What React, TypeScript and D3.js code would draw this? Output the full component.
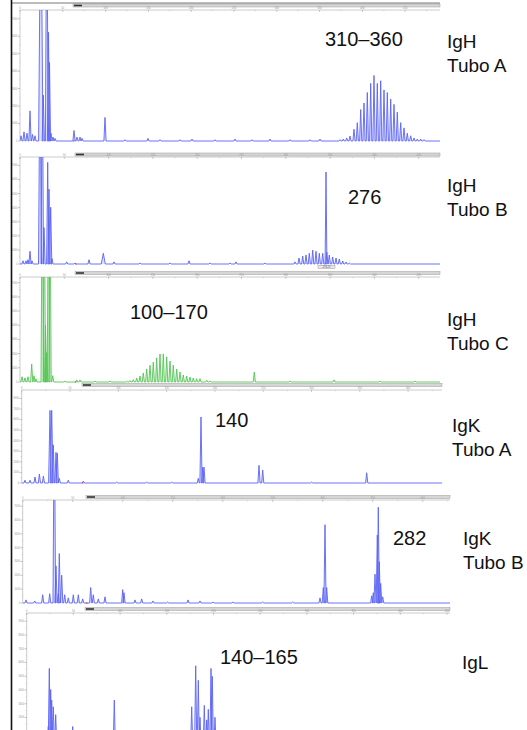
import React from "react";
import * as d3 from "d3";

// ---------- DATA ----------
// each peak: [position (scan units from panel origin), height (% of full scale), optional half-width]
type Peak = number[];

const panelTitles: string[][] = [
  ["IgH", "Tubo A"],
  ["IgH", "Tubo B"],
  ["IgH", "Tubo C"],
  ["IgK", "Tubo A"],
  ["IgK", "Tubo B"],
  ["IgL"],
];

const sizeAnnotations = ["310–360", "276", "100–170", "140", "282", "140–165"];

const rfuMax = [7500, 7600, 7400, 8800, 7450, 9600];

const xTickLabels = ["0", "50", "100", "150", "200", "250", "300", "350", "400", "450"];

const igHTuboA: Peak[] = [
  [1, 4], [4, 7], [7, 6], [10, 23], [12.5, 5], [15, 4],
  [20.8, 200, 2.2], [23.3, 35], [26.8, 200, 1.4], [28.5, 83], [29.5, 60], [31, 6], [33, 3], [35, 2],
  [54, 8], [57, 3], [60, 3], [62, 2],
  [85, 18],
  [105, 1], [128, 2], [140, 1], [160, 1], [172, 1.5], [195, 1], [215, 1.5], [232, 1], [250, 1.5], [270, 1], [290, 1], [300, 1.5],
  [320, 1], [323.3, 1.5], [326.7, 2.3], [330, 3.8], [334, 9], [337.3, 14], [340.7, 24], [344, 29],
  [347.3, 37], [350.7, 44], [354, 50], [357.3, 44], [360.7, 46], [364, 39], [367.3, 37], [370.7, 32],
  [374, 28], [377.3, 22], [380.7, 14], [384, 10], [387.3, 6], [390.7, 4], [394, 2.3], [397.3, 1.5],
  [400.7, 1.5], [404, 1],
];

const igHTuboB: Peak[] = [
  [3, 3], [6, 3], [8, 4], [10, 12], [12, 3],
  [20, 200, 1.5], [22.3, 200, 1.2], [24, 34], [27.7, 95], [29, 70], [30.7, 53], [32, 5],
  [46.7, 2], [55, 1], [69, 4], [83.3, 10, 2], [94, 2], [120, 1], [150, 1], [169, 3], [190, 1], [210, 1], [216, 2], [245, 1],
  [275, 2], [279, 5.6], [282.7, 7.5], [286, 8.4], [289.3, 10], [292.7, 13], [296, 12], [299.3, 10],
  [302.7, 10], [306, 86, 0.9], [306.8, 11], [309.3, 8.4], [312.7, 6.5], [316, 5.6], [319.3, 4.7],
  [322.7, 2.8], [326, 1.9], [329.3, 1],
];

const igHTuboC: Peak[] = [
  [2, 5], [5, 4], [8, 5], [11.7, 17], [14, 6], [16, 3],
  [22.3, 200, 1.3], [24.3, 200, 1.2], [25.5, 54], [26.7, 28], [28.5, 200, 1.3], [30, 200, 1.2], [32.7, 6],
  [45, 1], [56.7, 2], [60, 2], [75, 1], [90, 1],
  [106.7, 0.7], [110, 1.3], [113.3, 2.2], [116.7, 3.8], [120, 5.7], [123.3, 8.6], [126.7, 12.4],
  [130, 16], [133.3, 19], [136.7, 23], [140, 26.7], [143.3, 26.7], [146.7, 24], [150, 20],
  [153.3, 16], [156.7, 12.4], [160, 9.5], [163.3, 6.7], [166.7, 5.7], [170, 4.8], [173.3, 3.8],
  [176.7, 3.2], [180, 3.2], [186.7, 1.6], [190, 1],
  [234.3, 9.5], [270, 1], [314, 2], [360, 1], [395, 1],
];

const igKTuboA: Peak[] = [
  [3.3, 3], [8.3, 3], [13.3, 6.5], [17.7, 9.7], [21.7, 7.5],
  [28.3, 78, 1.4], [30, 78, 1.4], [31.6, 41], [34.3, 33], [35.6, 32], [37.6, 5], [46.6, 3],
  [61.6, 2], [95, 1], [125, 1], [150, 1],
  [176.6, 5], [179.3, 71, 1.1], [181, 17], [182.3, 17],
  [237.3, 19], [241, 14],
  [290, 1], [345, 11],
];

const igKTuboB: Peak[] = [
  [3.3, 3], [12, 2], [20, 8], [27, 9],
  [31.6, 200, 1.3], [33.3, 36], [35.6, 9], [36.6, 48], [39, 27], [42, 8], [45.6, 5], [50.6, 8], [55.6, 8],
  [60, 4], [68, 15], [70.6, 8], [75.6, 4], [82.3, 6], [100, 13], [101.3, 10], [112.3, 3], [119, 4],
  [130.3, 2], [145, 1], [165.3, 3], [177.3, 2], [190.3, 1], [210.3, 1], [240, 1], [270, 1],
  [297.3, 5], [300.6, 15], [302.3, 76, 1.1], [304, 15],
  [349, 7], [350.6, 10], [352.3, 28], [354.6, 66], [355.6, 93, 1.1], [356.6, 40], [358, 19], [360, 6],
];

const igL: Peak[] = [
  [5, 3], [12, 3], [21.6, 14], [22.6, 58], [24, 42], [25, 34], [26.6, 29], [29, 23], [35, 6],
  [46, 14], [87.6, 34], [140, 4],
  [165, 29], [169, 60], [171.6, 49], [173.3, 21], [177.6, 30], [180, 19], [181.6, 27],
  [184.3, 58], [185.6, 52], [188.3, 21],
];

const traces: Peak[][] = [igHTuboA, igHTuboB, igHTuboC, igKTuboA, igKTuboB, igL];

// ---------- LAYOUT ----------
interface Geo {
  x0: number; x1: number; top: number; base: number;
  barY: number; barX0: number; step: number; color: string; fill: string;
  ann: [number, number]; lab: [number, number];
}
const BLUE = "#5b63f4";
const BLUE_FILL = "#b9bcff";
const GREEN = "#55c455";
const GREEN_FILL = "#bfeebf";

const geos: Geo[] = [
  { x0: 20, x1: 440, top: 10, base: 141, barY: 4, barX0: 73, step: 42.8, color: BLUE, fill: BLUE_FILL, ann: [325, 46], lab: [447, 48] },
  { x0: 20, x1: 440, top: 157, base: 264, barY: 153, barX0: 75, step: 44.3, color: BLUE, fill: BLUE_FILL, ann: [348, 204], lab: [447, 192] },
  { x0: 20, x1: 440, top: 277, base: 382, barY: 271.5, barX0: 75, step: 44.3, color: GREEN, fill: GREEN_FILL, ann: [130, 319], lab: [447, 326] },
  { x0: 21.7, x1: 442, top: 390, base: 483, barY: 383.5, barX0: 82, step: 48.3, color: BLUE, fill: BLUE_FILL, ann: [215, 427], lab: [452, 432] },
  { x0: 22.7, x1: 450, top: 500, base: 603, barY: 495.5, barX0: 86, step: 50, color: BLUE, fill: BLUE_FILL, ann: [393, 545], lab: [463, 545] },
  { x0: 26.7, x1: 450, top: 613, base: 745, barY: 607.5, barX0: 85, step: 46.7, color: BLUE, fill: BLUE_FILL, ann: [220, 664], lab: [462, 669] },
];

const FONT = "'Liberation Sans', Arial, sans-serif";

function Panel({ i }: { i: number }) {
  const g = geos[i];
  const peaks = traces[i];
  const width = g.x1 - g.x0;
  const x = d3.scaleLinear().domain([0, width]).range([g.x0, g.x1]);
  const y = d3.scaleLinear().domain([0, rfuMax[i]]).range([g.base, g.top]);
  const hv = (p: number) => (p / 100) * rfuMax[i];

  const sorted = [...peaks].sort((a, b) => a[0] - b[0]);
  const pts: [number, number][] = [[0, 0]];
  for (const p of sorted) {
    const w = p[2] ?? 1.1;
    pts.push([p[0] - w, 0], [p[0], hv(p[1])], [p[0] + w, 0]);
  }
  pts.push([width, 0]);
  const line = d3.line<[number, number]>().x((d) => x(d[0])).y((d) => y(d[1]));
  const path = line(pts) || "";

  const majorTicks = d3.range(0, width + 0.1, g.step);
  const minorTicks = d3.range(g.step / 2, width, g.step);
  const yTicks = d3.range(0, rfuMax[i], 1000).filter((t) => y(t) < 725);
  const yMinor = d3.range(500, rfuMax[i], 1000).filter((t) => y(t) < 729);
  const clipId = `clip${i}`;
  const title = panelTitles[i];

  return (
    <g>
      <defs>
        <clipPath id={clipId}>
          <rect x={g.x0} y={g.top} width={width} height={g.base - g.top + 1.5} />
        </clipPath>
      </defs>
      {/* gray header bar */}
      <rect x={g.barX0} y={g.barY} width={g.x1 - g.barX0} height={3} fill="#d6d6d6" stroke="#9c9c9c" strokeWidth={0.5} />
      <rect x={g.barX0 + 1} y={g.barY + 0.7} width={8} height={1.6} fill="#333" />
      {/* top axis */}
      <line x1={g.x0} x2={g.x1} y1={g.top} y2={g.top} stroke="#a8a8a8" strokeWidth={0.6} />
      {majorTicks.map((t, k) => (
        <g key={"mt" + k}>
          <line x1={x(t)} x2={x(t)} y1={g.top} y2={g.top + 1.8} stroke="#888" strokeWidth={0.5} />
          <text x={x(t)} y={g.top - 0.6} fontSize={2.6} fill="#999" textAnchor="middle" fontFamily={FONT}>
            {xTickLabels[k] ?? ""}
          </text>
        </g>
      ))}
      {minorTicks.map((t, k) => (
        <line key={"nt" + k} x1={x(t)} x2={x(t)} y1={g.top} y2={g.top + 1.2} stroke="#aaa" strokeWidth={0.4} />
      ))}
      {/* left axis */}
      <line x1={g.x0} x2={g.x0} y1={g.top} y2={Math.min(g.base, 730)} stroke="#a8a8a8" strokeWidth={0.6} />
      {yTicks.map((t) => (
        <g key={"yt" + t}>
          <line x1={g.x0 - 2} x2={g.x0} y1={y(t)} y2={y(t)} stroke="#888" strokeWidth={0.5} />
          <text x={g.x0 - 2.5} y={y(t) + 0.9} fontSize={2.6} fill="#999" textAnchor="end" fontFamily={FONT}>
            {t}
          </text>
        </g>
      ))}
      {yMinor.map((t) => (
        <line key={"ym" + t} x1={g.x0 - 1} x2={g.x0} y1={y(t)} y2={y(t)} stroke="#aaa" strokeWidth={0.4} />
      ))}
      {/* trace */}
      <g clipPath={`url(#${clipId})`}>
        <path d={path + `L${x(width)},${y(0)}Z`} fill={g.fill} fillOpacity={0.45} stroke="none" />
        <path d={path} fill="none" stroke={g.color} strokeWidth={0.9} strokeLinejoin="round" />
      </g>
      {/* start marker */}
      <line x1={g.barX0} x2={g.barX0 + 1.5} y1={g.base} y2={g.base} stroke="#e33" strokeWidth={1} />
      {i === 1 && (
        <g>
          <rect x={x(298)} y={g.base + 1.5} width={17} height={3} fill="#e6e6e6" stroke="#8a8a8a" strokeWidth={0.4} />
          <text x={x(306.5)} y={g.base + 4} fontSize={2.6} fill="#555" textAnchor="middle" fontFamily={FONT}>
            276.25
          </text>
        </g>
      )}
      {/* annotations */}
      <text x={g.ann[0]} y={g.ann[1]} fontSize={20} fontFamily={FONT} fill="#111">
        {sizeAnnotations[i]}
      </text>
      {title.map((s, k) => (
        <text key={k} x={g.lab[0]} y={g.lab[1] + k * 24} fontSize={19} fontFamily={FONT} fill="#111">
          {s}
        </text>
      ))}
    </g>
  );
}

export default function App() {
  return (
    <svg
      width={527}
      height={730}
      viewBox="0 0 527 730"
      style={{ position: "absolute", left: 0, top: 0, background: "#fff" }}
    >
      <rect x={0} y={0} width={527} height={730} fill="#fff" />
      {geos.map((_, i) => (
        <Panel key={i} i={i} />
      ))}
      {/* frame */}
      <line x1={11.5} x2={440} y1={3} y2={3} stroke="#555" strokeWidth={0.8} />
      <line x1={11.5} x2={11.5} y1={0} y2={730} stroke="#111" strokeWidth={1.6} />
    </svg>
  );
}
